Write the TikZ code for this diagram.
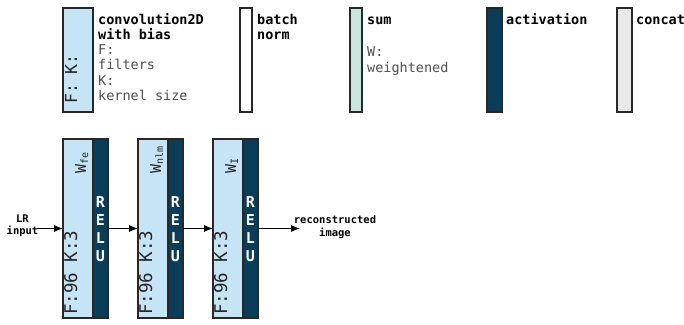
\documentclass[tikz,border=0pt]{standalone}
\usepackage{fontspec}
\setmonofont{DejaVu Sans Mono}
\setsansfont{DejaVu Sans}
\usetikzlibrary{arrows.meta}
\definecolor{convc}{RGB}{197,228,246}
\definecolor{actc}{RGB}{10,61,90}
\definecolor{sumc}{RGB}{200,230,222}
\definecolor{catc}{RGB}{232,232,232}
\definecolor{bordc}{RGB}{40,40,40}
\definecolor{graytxt}{RGB}{80,80,80}
\newcommand{\wsub}[1]{{\fontsize{15}{15}\selectfont W}\raisebox{-2pt}{\fontsize{10}{10}\selectfont #1}}
\tikzset{
  box/.style={draw=bordc, line width=1.1pt, inner sep=0pt, outer sep=0pt, anchor=north west},
  legtitle/.style={font=\ttfamily\bfseries\fontsize{13.5}{14}\selectfont, anchor=base west, inner sep=0pt, text=black},
  legtext/.style={font=\ttfamily\fontsize{13.5}{14}\selectfont, anchor=base west, inner sep=0pt, text=graytxt},
  rottext/.style={font=\ttfamily\fontsize{17.5}{18}\selectfont, rotate=90, anchor=base west, inner sep=0pt, text=black!85},
  wtext/.style={font=\ttfamily, rotate=90, anchor=base west, inner sep=0pt, text=black!85},
  relu/.style={font=\ttfamily\bfseries\fontsize{15}{15}\selectfont, text=white, inner sep=0pt, anchor=center},
  small/.style={font=\ttfamily\bfseries\fontsize{10.5}{12.5}\selectfont, align=center, inner sep=0pt},
  arr/.style={-{Latex[length=9pt,width=7pt]}, line width=1pt, black},
}
\begin{document}
\begin{tikzpicture}[x=1pt,y=-1pt]
\useasboundingbox (0,0) rectangle (684,324);
% ---------- legend ----------
\node[box, fill=convc, minimum width=30pt, minimum height=104pt] (lconv) at (63,8) {};
\node[rottext, font=\ttfamily\fontsize{16.5}{17}\selectfont] (lconvtxt) at (77,104) {F: K:};
\node[legtitle] (t1) at (98,24) {convolution2D};
\node[legtitle] (t2) at (98,39) {with bias};
\node[legtext] (t3) at (98,54) {F:};
\node[legtext] (t4) at (98,69) {filters};
\node[legtext] (t5) at (98,85) {K:};
\node[legtext] (t6) at (98,100) {kernel size};

\node[box, fill=white, minimum width=12pt, minimum height=104pt] (lbn) at (240,8) {};
\node[legtitle] (t7) at (257,24) {batch};
\node[legtitle] (t8) at (257,39) {norm};

\node[box, fill=sumc, minimum width=12pt, minimum height=104pt] (lsum) at (350,8) {};
\node[legtitle] (t9) at (367,24) {sum};
\node[legtext] (t10) at (367,56) {W:};
\node[legtext] (t11) at (367,72) {weightened};

\node[box, fill=actc, minimum width=15pt, minimum height=104pt] (lact) at (487,8) {};
\node[legtitle] (t12) at (506,24) {activation};

\node[box, fill=catc, minimum width=15pt, minimum height=104pt] (lcat) at (617,8) {};
\node[legtitle] (t13) at (636,24) {concat};

% ---------- network ----------
\foreach \i/\x/\s in {1/63/fe, 2/138/nlm, 3/213/I}{
  \node[box, fill=convc, minimum width=30pt, minimum height=179pt] (l\i) at (\x,139) {};
  \node[box, fill=actc, minimum width=15pt, minimum height=179pt] (d\i) at (\x+30,139) {};
  \node[rottext] (f\i) at (\x+14,315) {F:96 K:3};
  \node[wtext] (w\i) at (\x+23,174) {\wsub{\s}};
  \node[relu] (ra\i) at (\x+37.5,202) {R};
  \node[relu] (rb\i) at (\x+37.5,220) {E};
  \node[relu] (rc\i) at (\x+37.5,238) {L};
  \node[relu] (rd\i) at (\x+37.5,256) {U};
}
\node[small] (inp) at (22.5,226) {LR\\input};
\node[small] (out) at (335,227) {reconstructed\\image};
\coordinate (inst) at (37,228.5);
\coordinate (outend) at (300,228.5);
\draw[arr] (inst) -- (inst -| l1.west);
\draw[arr] (d1.east) -- (l2.west);
\draw[arr] (d2.east) -- (l3.west);
\draw[arr] (d3.east) -- (outend);
\end{tikzpicture}
\end{document}
